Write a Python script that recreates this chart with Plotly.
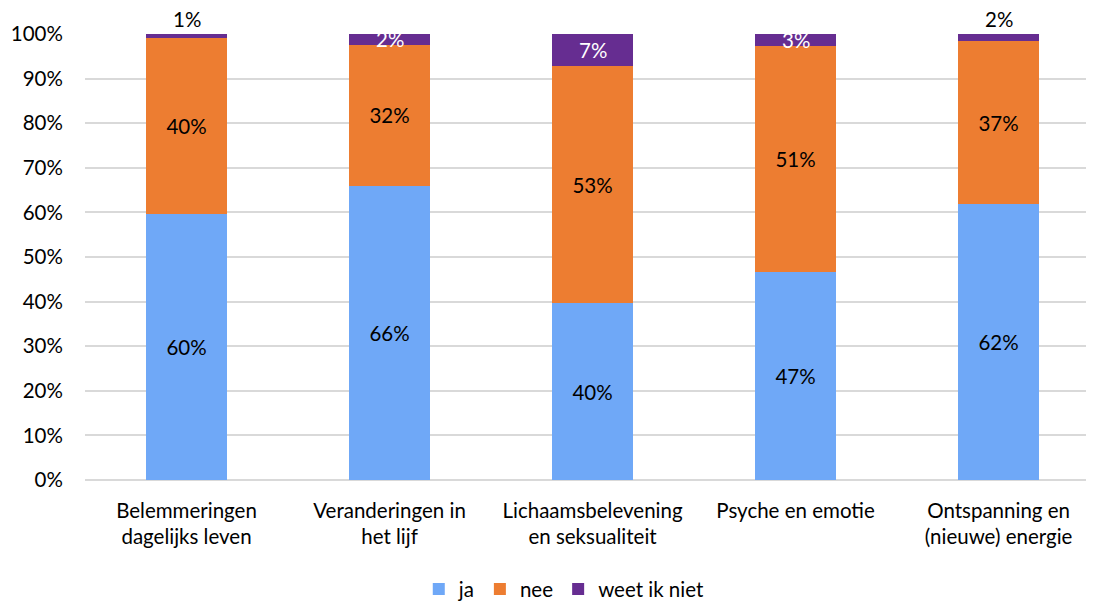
import plotly.graph_objects as go

# data
categories = ["Belemmeringen<br>dagelijks leven", "Veranderingen in<br>het lijf",
              "Lichaamsbelevening<br>en seksualiteit", "Psyche en emotie",
              "Ontspanning en<br>(nieuwe) energie"]
ja = [59.7, 66.0, 39.6, 46.7, 61.8]
nee = [39.5, 31.6, 53.2, 50.6, 36.6]
weet = [0.8, 2.4, 7.2, 2.7, 1.6]
ja_labels = ["60%", "66%", "40%", "47%", "62%"]
nee_labels = ["40%", "32%", "53%", "51%", "37%"]
weet_labels = ["1%", "2%", "7%", "3%", "2%"]
weet_outside = [True, False, False, False, True]

FONT = "Lato, 'Open Sans', sans-serif"
FS = 20.5

fig = go.Figure()
fig.add_trace(go.Bar(x=categories, y=ja, name="ja", marker_color="#6FA8F7",
                     text=ja_labels, textposition="inside", insidetextanchor="middle",
                     textfont=dict(color="#000000", size=FS)))
fig.add_trace(go.Bar(x=categories, y=nee, name="nee", marker_color="#ED7D31",
                     text=nee_labels, textposition="inside", insidetextanchor="middle",
                     textfont=dict(color="#000000", size=FS)))
fig.add_trace(go.Bar(x=categories, y=weet, name="weet ik niet", marker_color="#662D91"))

fig.update_traces(marker_line_width=0, width=0.4, constraintext="none")

# labels of the small top segment, placed like in the original
for i, cat in enumerate(categories):
    base = ja[i] + nee[i]
    if weet_outside[i]:
        fig.add_annotation(x=cat, y=base + weet[i], text=weet_labels[i], showarrow=False,
                           yanchor="bottom", yshift=1, font=dict(color="#000000", size=FS))
    else:
        fig.add_annotation(x=cat, y=base + weet[i] / 2, text=weet_labels[i], showarrow=False,
                           yanchor="middle", font=dict(color="#ffffff", size=FS))

# the html page adds an 8px body margin, so the figure is a bit smaller
fig.update_layout(
    barmode="stack",
    width=1086, height=594,
    margin=dict(l=77, r=0, t=26, b=122, autoexpand=False),
    plot_bgcolor="white", paper_bgcolor="white",
    font=dict(family=FONT, size=FS, color="#000000"),
    showlegend=True,
    legend=dict(orientation="h", traceorder="normal", x=0.475, xanchor="center",
                y=-0.245, yanchor="middle", font=dict(size=FS), itemwidth=30),
    xaxis=dict(range=[-0.5, 4.47], showgrid=False, showline=False, ticks="outside",
               ticklen=12, tickcolor="rgba(0,0,0,0)", tickfont=dict(size=FS)),
    yaxis=dict(range=[0, 100], dtick=10, ticksuffix="%", showgrid=True,
               gridcolor="#D9D9D9", gridwidth=1.5, zeroline=True, zerolinecolor="#D9D9D9",
               zerolinewidth=1.5, ticks="outside", ticklen=17,
               tickcolor="rgba(0,0,0,0)", tickfont=dict(size=FS)),
)

fig.write_html("out.html")
